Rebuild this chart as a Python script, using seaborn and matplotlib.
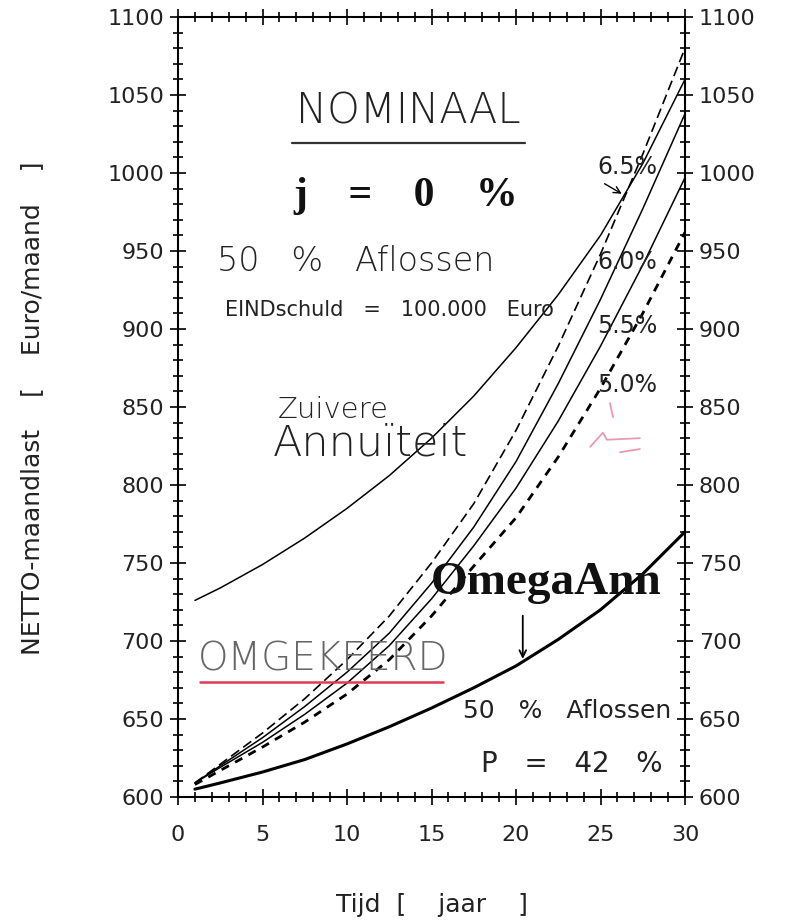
import numpy as np
import pandas as pd
import seaborn as sns
import matplotlib.pyplot as plt
from matplotlib.ticker import MultipleLocator

# jaren (tijd-as) en netto maandlasten
jaren = [1, 2.5, 5, 7.5, 10, 12.5, 15, 17.5, 20, 22.5, 25, 27.5, 30]
omg_65 = [609, 621, 641, 663, 688, 716, 750, 788, 835, 889, 948, 1012, 1080]
omg_60 = [609, 620, 638, 658, 680, 705, 737, 773, 815, 865, 919, 977, 1038]
omg_55 = [609, 619, 635, 653, 673, 697, 727, 761, 798, 841, 889, 941, 997]
omg_50 = [608, 617, 632, 648, 666, 688, 716, 748, 779, 818, 862, 910, 962]
annuiteit = [726, 734, 749, 766, 785, 806, 830, 857, 888, 922, 960, 1006, 1060]
omega_ann = [605, 609, 616, 624, 634, 645, 657, 670, 684, 701, 720, 743, 770]

rente_labels = ['6.5%', '6.0%', '5.5%', '5.0%']
rente_y = [1004, 943, 902, 864]

sns.set_theme(style="white")
plt.rcParams['font.family'] = ['DejaVu Sans']

fig = plt.figure(figsize=(7.87, 9.22), dpi=100)
ax = fig.add_axes([0.2262, 0.1356, 0.6442, 0.846])

# curves
sns.lineplot(x=jaren, y=annuiteit, ax=ax, color='black', lw=1.1)
sns.lineplot(x=jaren, y=omg_65, ax=ax, color='black', lw=1.2, dashes=False, linestyle=(0, (6, 3)))
sns.lineplot(x=jaren, y=omg_60, ax=ax, color='black', lw=1.1)
sns.lineplot(x=jaren, y=omg_55, ax=ax, color='black', lw=1.1)
sns.lineplot(x=jaren, y=omg_50, ax=ax, color='black', lw=2.0, dashes=False, linestyle=(0, (3, 2.5)))
sns.lineplot(x=jaren, y=omega_ann, ax=ax, color='black', lw=2.2)

ax.set_xlim(0, 30)
ax.set_ylim(600, 1100)
ax.xaxis.set_major_locator(MultipleLocator(5))
ax.xaxis.set_minor_locator(MultipleLocator(1))
ax.yaxis.set_major_locator(MultipleLocator(50))
ax.yaxis.set_minor_locator(MultipleLocator(10))
ax.tick_params(which='both', direction='inout', top=True, right=True, bottom=True, left=True,
               labelright=True, color='black', width=1.2, labelsize=16, labelcolor='#222222')
ax.tick_params(which='major', length=12)
ax.tick_params(which='minor', length=7)
ax.tick_params(axis='x', which='major', pad=14)
ax.tick_params(axis='y', which='major', pad=4)
for s in ax.spines.values():
    s.set_color('black')
    s.set_linewidth(1.5)
ax.set_xlabel('')
ax.set_ylabel('')

fig.text(0.549, 0.018, 'Tijd  [    jaar    ]', ha='center', va='center', fontsize=18, color='#222222')
fig.text(0.041, 0.5575, 'NETTO-maandlast    [    Euro/maand    ]', rotation=90, ha='center', va='center',
         fontsize=18, color='#222222')

# tekst in de grafiek
ax.text(13.6, 1040, 'NOMINAAL', ha='center', va='center', fontsize=30, fontweight='light', color='#222222')
ax.plot([0.225, 0.685], [0.838, 0.838], transform=ax.transAxes, color='#333333', lw=1.6)
ax.text(13.45, 985, 'j    =    0    %', ha='center', va='center', fontsize=30, fontweight='bold',
        family=['Liberation Serif', 'DejaVu Serif'], color='#111111')
ax.text(10.5, 943, '50   %   Aflossen', ha='center', va='center', fontsize=24, fontweight='light', color='#222222')
ax.text(12.5, 912, 'EINDschuld   =   100.000   Euro', ha='center', va='center', fontsize=15, color='#222222')
ax.text(9.2, 848, 'Zuivere', ha='center', va='center', fontsize=21, fontweight='light', color='#222222')
ax.text(11.4, 827, 'Annuïteit', ha='center', va='center', fontsize=31, fontweight='light', color='#222222')
ax.text(8.6, 688, 'OMGEKEERD', ha='center', va='center', fontsize=28, fontweight='light', color='#666666')
ax.plot([0.043, 0.522], [0.148, 0.148], transform=ax.transAxes, color='#e03a55', lw=1.8)
ax.text(21.8, 737, 'OmegaAnn', ha='center', va='center', fontsize=34, fontweight='bold',
        family=['Liberation Serif', 'DejaVu Serif'], color='#111111')
ax.annotate('', xy=(20.4, np.interp(20.4, jaren, omega_ann)), xytext=(20.4, 718),
            arrowprops=dict(arrowstyle='->', color='black', lw=1.3))
ax.text(23.0, 655, '50   %   Aflossen', ha='center', va='center', fontsize=18, color='#222222')
ax.text(23.3, 621, 'P   =   42   %', ha='center', va='center', fontsize=20, color='#222222')

for lab, yv in zip(rente_labels, rente_y):
    ax.text(26.6, yv, lab, ha='center', va='center', fontsize=17, color='#222222')
ax.annotate('', xy=(26.4, np.interp(26.4, jaren, annuiteit)), xytext=(25.1, 994),
            arrowprops=dict(arrowstyle='->', color='black', lw=1.0))

# roze krabbel (scan-artefact)
krabbel = dict(transform=ax.transAxes, color='#e07a95', lw=1.3, alpha=0.75)
ax.plot([0.852, 0.858], [0.505, 0.487], **krabbel)
ax.plot([0.813, 0.838, 0.846, 0.911], [0.449, 0.467, 0.458, 0.460], **krabbel)
ax.plot([0.872, 0.911], [0.442, 0.446], **krabbel)

fig.savefig('out.png', dpi=100)
